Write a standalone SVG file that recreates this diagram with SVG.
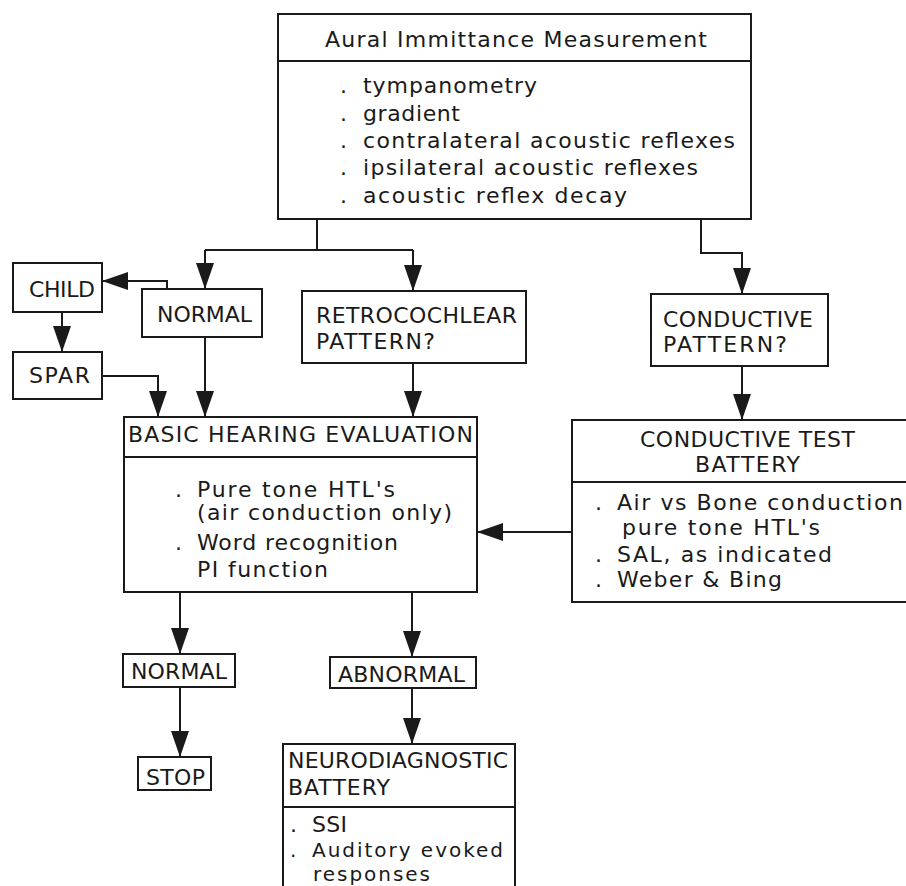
<svg xmlns="http://www.w3.org/2000/svg" width="906" height="886" viewBox="0 0 906 886">
<style>
.box{fill:#fff;stroke:#1a1a1a;stroke-width:2}
.div{stroke:#1a1a1a;stroke-width:2}
.lbl{font-family:"DejaVu Sans","Liberation Sans",sans-serif;font-size:22px;fill:#1a1a1a}
.txt{font-family:"DejaVu Sans","Liberation Sans",sans-serif;font-size:22px;fill:#1a1a1a}
.sm{font-size:20px}
.con{fill:none;stroke:#1a1a1a;stroke-width:2}
.arr{fill:none;stroke:#1a1a1a;stroke-width:2;marker-end:url(#ah)}
</style>
<defs>
<marker id="ah" markerUnits="userSpaceOnUse" markerWidth="26" markerHeight="18" refX="26" refY="9" orient="auto" viewBox="0 0 26 18">
<path d="M0,0 L26,9 L0,18 z" fill="#1a1a1a"/>
</marker>
</defs>
<rect width="906" height="886" fill="#fff"/>

<g id="connectors">
<path class="con" d="M317,219 V250 M205,250 H413"/>
<path class="arr" d="M205,250 V289"/>
<path class="arr" d="M413,250 V291"/>
<path class="arr" d="M701,219 V253 H742 V294"/>
<path class="arr" d="M167,289 V281 H102"/>
<path class="arr" d="M62,312 V352"/>
<path class="arr" d="M102,376 H158 V417"/>
<path class="arr" d="M205,337 V417"/>
<path class="arr" d="M413,363 V417"/>
<path class="arr" d="M742,366 V420"/>
<path class="arr" d="M572,532 H477"/>
<path class="arr" d="M180,592 V654"/>
<path class="arr" d="M412,592 V657"/>
<path class="arr" d="M180,687 V757"/>
<path class="arr" d="M412,688 V744"/>
</g>

<g id="aural">
<rect class="box" x="278" y="14" width="473" height="205"/>
<line class="div" x1="278" y1="61" x2="751" y2="61"/>
<text class="lbl" x="325" y="47" textLength="382" lengthAdjust="spacing">Aural Immittance Measurement</text>
<text class="txt" x="340" y="93">.</text><text class="txt" x="363" y="93" textLength="174" lengthAdjust="spacing">tympanometry</text>
<text class="txt" x="340" y="121">.</text><text class="txt" x="363" y="121" textLength="97" lengthAdjust="spacing">gradient</text>
<text class="txt" x="340" y="148">.</text><text class="txt" x="363" y="148" textLength="372" lengthAdjust="spacing">contralateral acoustic reflexes</text>
<text class="txt" x="340" y="175">.</text><text class="txt" x="363" y="175" textLength="335" lengthAdjust="spacing">ipsilateral acoustic reflexes</text>
<text class="txt" x="340" y="203">.</text><text class="txt" x="363" y="203" textLength="264" lengthAdjust="spacing">acoustic reflex decay</text>
</g>

<g id="child">
<rect class="box" x="13" y="263" width="89" height="49"/>
<text class="lbl" x="29" y="297" textLength="66" lengthAdjust="spacing">CHILD</text>
</g>

<g id="normal-top">
<rect class="box" x="142" y="289" width="120" height="48"/>
<text class="lbl" x="157" y="322" textLength="95" lengthAdjust="spacing">NORMAL</text>
</g>

<g id="spar">
<rect class="box" x="13" y="352" width="89" height="47"/>
<text class="lbl" x="29" y="383" textLength="61" lengthAdjust="spacing">SPAR</text>
</g>

<g id="retro">
<rect class="box" x="302" y="291" width="224" height="72"/>
<text class="lbl" x="316" y="323" textLength="201" lengthAdjust="spacing">RETROCOCHLEAR</text>
<text class="lbl" x="316" y="349" textLength="119" lengthAdjust="spacing">PATTERN?</text>
</g>

<g id="conductive-pattern">
<rect class="box" x="651" y="294" width="177" height="72"/>
<text class="lbl" x="663" y="327" textLength="150" lengthAdjust="spacing">CONDUCTIVE</text>
<text class="lbl" x="663" y="352" textLength="124" lengthAdjust="spacing">PATTERN?</text>
</g>

<g id="basic">
<rect class="box" x="124" y="417" width="353" height="175"/>
<line class="div" x1="124" y1="457" x2="477" y2="457"/>
<text class="lbl" x="128" y="442" textLength="345" lengthAdjust="spacing">BASIC HEARING EVALUATION</text>
<text class="txt" x="175" y="497">.</text><text class="txt" x="197" y="497" textLength="198" lengthAdjust="spacing">Pure tone HTL's</text>
<text class="txt" x="197" y="520" textLength="255" lengthAdjust="spacing">(air conduction only)</text>
<text class="txt" x="175" y="550">.</text><text class="txt" x="197" y="550" textLength="201" lengthAdjust="spacing">Word recognition</text>
<text class="txt" x="197" y="577" textLength="131" lengthAdjust="spacing">PI function</text>
</g>

<g id="conductive-battery">
<rect class="box" x="572" y="420" width="345" height="182"/>
<line class="div" x1="572" y1="482" x2="917" y2="482"/>
<text class="lbl" x="640" y="447" textLength="215" lengthAdjust="spacing">CONDUCTIVE TEST</text>
<text class="lbl" x="695" y="472" textLength="105" lengthAdjust="spacing">BATTERY</text>
<text class="txt" x="595" y="510">.</text><text class="txt" x="617" y="510" textLength="286" lengthAdjust="spacing">Air vs Bone conduction</text>
<text class="txt" x="622" y="535" textLength="198" lengthAdjust="spacing">pure tone HTL's</text>
<text class="txt" x="595" y="562">.</text><text class="txt" x="617" y="562" textLength="215" lengthAdjust="spacing">SAL, as indicated</text>
<text class="txt" x="595" y="587">.</text><text class="txt" x="617" y="587" textLength="165" lengthAdjust="spacing">Weber &amp; Bing</text>
</g>

<g id="normal-bottom">
<rect class="box" x="123" y="654" width="112" height="33"/>
<text class="lbl" x="131" y="679" textLength="96" lengthAdjust="spacing">NORMAL</text>
</g>

<g id="abnormal">
<rect class="box" x="330" y="657" width="146" height="31"/>
<text class="lbl" x="338" y="682" textLength="127" lengthAdjust="spacing">ABNORMAL</text>
</g>

<g id="stop">
<rect class="box" x="138" y="757" width="73" height="33"/>
<text class="lbl" x="146" y="785" textLength="59" lengthAdjust="spacing">STOP</text>
</g>

<g id="neuro">
<rect class="box" x="283" y="744" width="232" height="160"/>
<line class="div" x1="283" y1="807" x2="515" y2="807"/>
<text class="lbl" x="288" y="768" textLength="220" lengthAdjust="spacing">NEURODIAGNOSTIC</text>
<text class="lbl" x="288" y="795" textLength="102" lengthAdjust="spacing">BATTERY</text>
<text class="txt" x="290" y="832">.</text><text class="txt" x="312" y="832" textLength="35" lengthAdjust="spacing">SSI</text>
<text class="txt sm" x="290" y="857">.</text><text class="txt sm" x="312" y="857" textLength="191" lengthAdjust="spacing">Auditory evoked</text>
<text class="txt sm" x="313" y="881" textLength="117" lengthAdjust="spacing">responses</text>
</g>
</svg>
